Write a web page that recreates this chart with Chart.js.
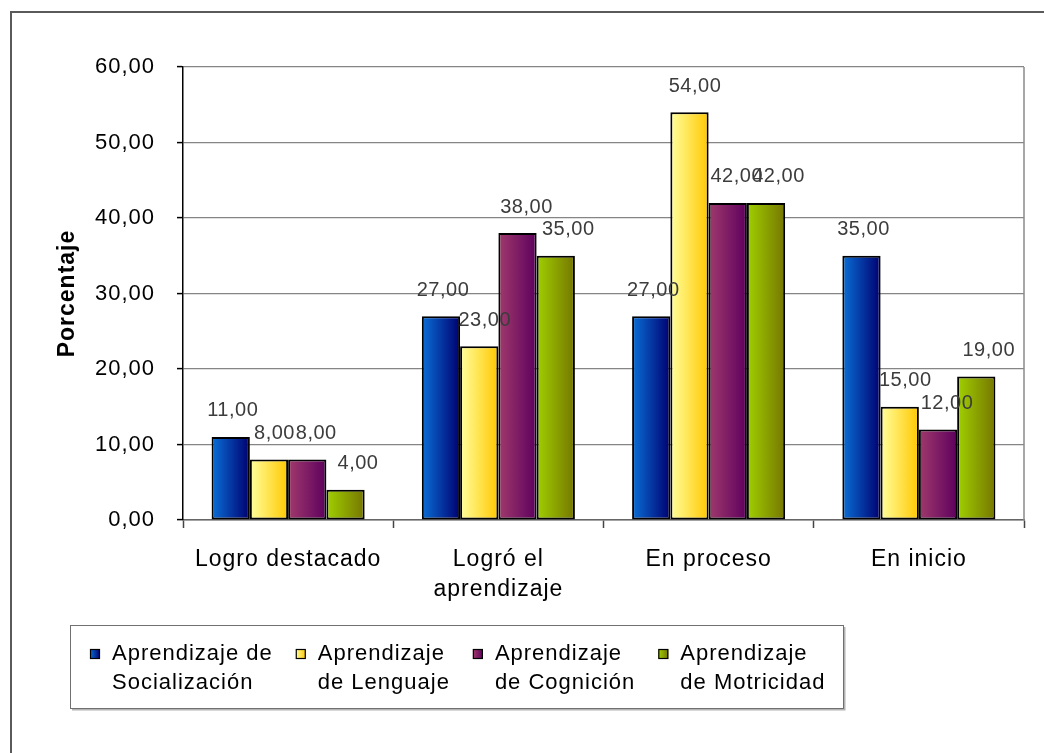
<!DOCTYPE html>
<html><head><meta charset="utf-8">
<script src="https://cdn.jsdelivr.net/npm/chart.js@4.4.0/dist/chart.umd.min.js"></script>
<style>html,body{margin:0;padding:0;background:#fff}canvas{display:block}</style>
</head><body>
<canvas id="c" width="1044" height="753"></canvas>
<script>
// ---- data ----
const categories = ['Logro destacado', ['Logró el', 'aprendizaje'], 'En proceso', 'En inicio'];
const seriesNames = ['Aprendizaje de\nSocialización', 'Aprendizaje\nde Lenguaje', 'Aprendizaje\nde Cognición', 'Aprendizaje\nde Motricidad'];
const socializacion = [11, 27, 27, 35];
const lenguaje = [8, 23, 54, 15];
const cognicion = [8, 38, 42, 12];
const motricidad = [4, 35, 42, 19];
const yMin = 0, yMax = 60, yStep = 10;
const yTitle = 'Porcentaje';

// ---- styles ----
const seriesGradients = [
  ['#0a6fd6', '#000070'],
  ['#ffff9e', '#ffc800'],
  ['#a03a6c', '#5e005e'],
  ['#a0d000', '#767600']
];
const FONT = '"Liberation Sans", Arial, sans-serif';
const fmt = v => v.toFixed(2).replace('.', ',');

const seriesValues = [socializacion, lenguaje, cognicion, motricidad];
const datasets = seriesValues.map((vals, i) => ({
  label: seriesNames[i],
  data: vals,
  backgroundColor: (c) => seriesGradients[c.datasetIndex][0],
  borderColor: '#000',
  borderWidth: 2,
  borderSkipped: false,
  categoryPercentage: 0.728,
  barPercentage: 1.0
}));

const framePlugin = {
  id: 'frame',
  beforeDraw(chart) {
    const ctx = chart.ctx;
    ctx.letterSpacing = '1px';
    ctx.save();
    ctx.fillStyle = '#fff';
    ctx.fillRect(0, 0, chart.width, chart.height);
    ctx.strokeStyle = '#5a5a5a';
    ctx.lineWidth = 2;
    ctx.beginPath();
    ctx.moveTo(11, chart.height);
    ctx.lineTo(11, 12);
    ctx.lineTo(chart.width, 12);
    ctx.stroke();
    ctx.restore();
  },
  afterDatasetsDraw(chart) {
    const a = chart.chartArea;
    const ctx = chart.ctx;
    ctx.save();
    ctx.strokeStyle = '#8a8a8a';
    ctx.lineWidth = 1.5;
    ctx.beginPath();
    ctx.moveTo(a.right, a.top);
    ctx.lineTo(a.right, a.bottom);
    ctx.stroke();
    ctx.restore();
  }
};

const gradPlugin = {
  id: 'grad',
  beforeDatasetsDraw(chart) {
    const ctx = chart.ctx;
    chart.data.datasets.forEach((ds, i) => {
      const meta = chart.getDatasetMeta(i);
      meta.data.forEach(el => {
        const g = ctx.createLinearGradient(el.x - el.width / 2, 0, el.x + el.width / 2, 0);
        g.addColorStop(0, seriesGradients[i][0]);
        g.addColorStop(1, seriesGradients[i][1]);
        el.options.backgroundColor = g;
      });
    });
  }
};

const labelPlugin = {
  id: 'vlabels',
  afterDatasetsDraw(chart) {
    const ctx = chart.ctx;
    ctx.save();
    ctx.letterSpacing = '0.5px';
    ctx.font = '20px ' + FONT;
    ctx.fillStyle = '#3c3c3c';
    ctx.textAlign = 'center';
    ctx.textBaseline = 'middle';
    chart.data.datasets.forEach((ds, i) => {
      const shift = 2 + 3.5 * i;
      chart.getDatasetMeta(i).data.forEach((el, j) => {
        ctx.fillText(fmt(ds.data[j]), el.x + shift, el.y - 26);
      });
    });
    ctx.restore();
  }
};

const legendPlugin = {
  id: 'legendBox',
  afterDraw(chart) {
    const ctx = chart.ctx;
    ctx.save();
    const box = { l: 70, t: 625, r: 843, b: 708 };
    ctx.fillStyle = '#fff';
    ctx.fillRect(box.l, box.t, box.r - box.l, box.b - box.t);
    ctx.strokeStyle = '#b4b4b4';
    ctx.lineWidth = 2;
    ctx.beginPath();
    ctx.moveTo(box.l + 2, box.b + 1.5);
    ctx.lineTo(box.r + 1.5, box.b + 1.5);
    ctx.lineTo(box.r + 1.5, box.t + 2);
    ctx.stroke();
    ctx.strokeStyle = '#707070';
    ctx.lineWidth = 1;
    ctx.strokeRect(box.l + 0.5, box.t + 0.5, box.r - box.l, box.b - box.t);
    ctx.font = '22px ' + FONT;
    ctx.letterSpacing = '1px';
    ctx.textBaseline = 'middle';
    ctx.textAlign = 'left';
    let x = box.l + 20;
    const my = 649, ty = 654, lh = 29;
    chart.data.datasets.forEach((ds, i) => {
      const lines = ds.label.split('\n');
      const g = ctx.createLinearGradient(x, 0, x + 10, 0);
      g.addColorStop(0, seriesGradients[i][0]);
      g.addColorStop(1, seriesGradients[i][1]);
      ctx.fillStyle = g;
      ctx.fillRect(x, my, 10, 10);
      ctx.strokeStyle = '#000';
      ctx.lineWidth = 1.2;
      ctx.strokeRect(x + 0.5, my + 0.5, 9, 9);
      ctx.fillStyle = '#000';
      const tx = x + 22;
      lines.forEach((ln, k) => ctx.fillText(ln, tx, ty + k * lh));
      const w = Math.max(...lines.map(l => ctx.measureText(l).width));
      x = tx + w + 23;
    });
    ctx.restore();
  }
};

new Chart(document.getElementById('c'), {
  type: 'bar',
  data: { labels: categories, datasets },
  options: {
    responsive: false,
    animation: false,
    events: [],
    layout: { padding: { left: 54, right: 20, top: 67, bottom: 0 } },
    plugins: { legend: { display: false }, tooltip: { enabled: false } },
    scales: {
      x: {
        grid: { display: true, drawOnChartArea: false, offset: true, tickLength: 8, tickColor: '#444', tickWidth: 1.5 },
        border: { color: '#666', width: 1.5 },
        ticks: { color: '#000', font: { family: FONT, size: 23, lineHeight: 1.3 }, padding: 17, maxRotation: 0, autoSkip: false },
        afterFit(s) { s.height = 233; }
      },
      y: {
        min: yMin, max: yMax,
        grid: { color: '#858585', lineWidth: 1.2, tickLength: 6, tickColor: '#000', tickWidth: 1.5 },
        border: { color: '#000', width: 1.5 },
        ticks: { stepSize: yStep, color: '#000', font: { family: FONT, size: 22 }, padding: 22, callback: v => fmt(v) },
        title: { display: true, text: yTitle, color: '#000', font: { family: FONT, size: 23, weight: 'bold' }, padding: 0 },
        afterFit(s) { s.width = 129; }
      }
    }
  },
  plugins: [framePlugin, gradPlugin, labelPlugin, legendPlugin]
});
</script>
</body></html>
